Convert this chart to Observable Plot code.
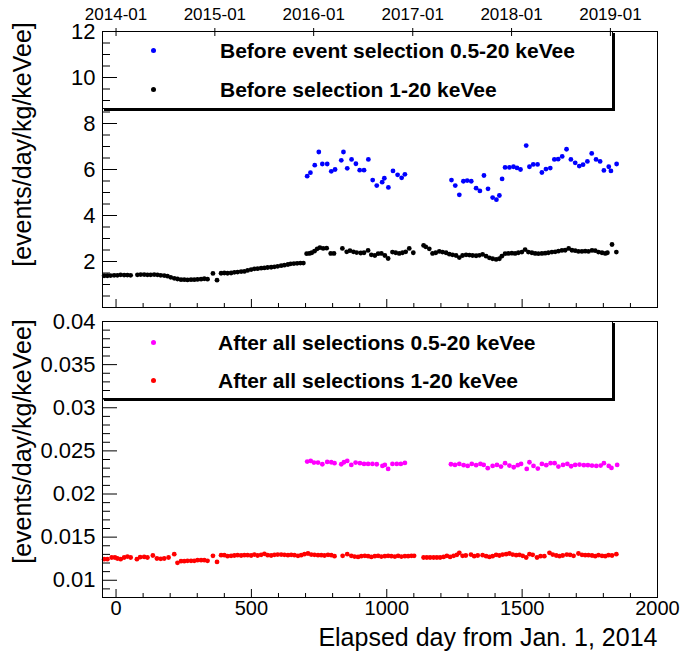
<!DOCTYPE html>
<html><head><meta charset="utf-8">
<script src="https://cdn.jsdelivr.net/npm/d3@7"></script>
<script src="https://cdn.jsdelivr.net/npm/@observablehq/plot@0.6"></script>
<style>
html,body{margin:0;padding:0;background:#fff;}
body{font-family:"Liberation Sans",Arial,Helvetica,sans-serif;}
#wrap{position:relative;width:680px;height:654px;overflow:hidden;}
.panel{position:absolute;left:0;}
.legend{position:absolute;border:1px solid #000;box-shadow:2px 2px 0 #000;box-sizing:border-box;}
.lg-dot{position:absolute;width:5px;height:5px;border-radius:50%;margin:-2.5px 0 0 -2.5px;}
.lg-txt{position:absolute;font-weight:bold;font-size:21px;line-height:1;transform:translateY(-50%);white-space:nowrap;color:#000;}
</style>
</head><body>
<div id="wrap"></div>
<script>
// ---------- data ----------
// "Before selection 1-20 keVee" (black)
const blackDays = [-44,-32,-20,-7,5,17,30,42,54,79,91,104,116,128,141,153,165,178,190,202,215,227,240,252,264,277,289,301,314,326,338,358,373,388,400,412,425,437,449,462,474,486,499,511,523,536,548,560,573,585,597,610,622,635,645,657,669,681,692,
  704,714,723,733,743,753,765,778,793,805,836,852,864,877,889,904,916,931,943,956,968,980,993,1005,1021,1033,1046,1058,1070,1083,1098,
  1136,1144,1157,1169,1181,1194,1206,1219,1231,1243,1256,1268,1280,1293,1305,1317,1330,1342,
  1354,1367,1379,1391,1404,1416,1425,1437,1449,1462,1474,1486,1499,1511,1523,1536,1548,1560,1573,1585,1597,1610,1622,1634,1647,1659,1672,1684,1696,1708,1721,1733,1745,1758,1770,1782,1795,1807,1815,1832,1848];
const blackVals = [1.38,1.38,1.39,1.40,1.40,1.42,1.41,1.41,1.40,1.42,1.43,1.43,1.42,1.42,1.43,1.42,1.40,1.39,1.36,1.31,1.27,1.24,1.21,1.21,1.20,1.21,1.21,1.22,1.23,1.25,1.23,1.48,1.19,1.49,1.50,1.49,1.50,1.53,1.54,1.56,1.57,1.61,1.65,1.68,1.69,1.71,1.72,1.74,1.75,1.77,1.79,1.82,1.84,1.87,1.90,1.91,1.92,1.93,1.93,
  2.34,2.35,2.38,2.45,2.55,2.60,2.57,2.58,2.35,2.35,2.57,2.42,2.47,2.42,2.39,2.37,2.38,2.48,2.29,2.26,2.34,2.35,2.26,2.13,2.41,2.38,2.35,2.38,2.42,2.57,2.38,
  2.70,2.64,2.55,2.35,2.38,2.44,2.41,2.38,2.32,2.29,2.26,2.17,2.26,2.29,2.28,2.26,2.25,2.27,
  2.31,2.23,2.16,2.12,2.09,2.12,2.23,2.34,2.35,2.36,2.35,2.38,2.41,2.52,2.41,2.38,2.35,2.34,2.35,2.36,2.38,2.41,2.42,2.45,2.48,2.49,2.57,2.49,2.47,2.44,2.44,2.45,2.44,2.48,2.47,2.41,2.38,2.35,2.38,2.74,2.41];

// "Before event selection 0.5-20 keVee" (blue)
const blueDays = [706,718,734,749,762,780,795,809,832,840,854,870,886,900,916,932,948,963,983,991,1006,1023,1040,1055,1067,
  1239,1253,1268,1283,1297,1312,1330,1344,1359,1374,1391,1405,1416,1426,1437,1453,1468,1481,1494,1515,1527,1541,1557,1573,1588,1604,1619,1633,1648,1664,1680,1696,1711,1725,1741,1757,1773,1788,1802,1820,1828,1849];
const blueVals = [5.71,5.86,6.19,6.76,6.24,6.24,5.92,6.00,6.40,6.76,6.05,6.44,6.25,5.97,5.97,6.44,5.54,5.30,5.45,5.62,5.22,5.94,5.77,5.64,5.79,
  5.54,5.30,4.90,5.49,5.52,5.49,5.19,5.07,5.74,5.16,4.78,4.69,4.87,5.59,6.09,6.09,6.12,6.07,6.00,7.04,6.12,6.22,6.22,5.87,6.02,6.06,6.44,6.45,6.57,6.88,6.44,6.29,6.15,6.21,6.35,6.70,6.44,6.35,5.96,6.12,5.94,6.24];

// "After all selections 1-20 keVee" (red)
const redDays = [-44,-32,-16,-4,5,17,30,42,54,77,89,104,116,136,151,165,178,194,215,227,240,252,264,277,289,301,314,326,338,358,373,388,400,412,425,437,449,462,474,486,499,511,523,536,548,560,573,585,597,610,622,635,647,659,672,684,696,709,721,733,746,758,770,783,795,807,
  837,854,869,881,894,906,919,931,943,956,968,980,993,1005,1017,1030,1042,1054,1067,1079,1091,1101,
  1136,1148,1160,1173,1185,1197,1210,1222,1234,1247,1259,1268,1280,1292,1311,1323,1336,
  1354,1367,1379,1391,1404,1416,1428,1441,1453,1465,1478,1490,1502,1515,1527,1539,1555,1568,1582,1601,1613,1626,1638,1650,1665,1677,1690,1708,1721,1733,1745,1758,1770,1782,1795,1807,1819,1832,1848];
const redVals = [0.01244,0.01244,0.01264,0.01264,0.01252,0.01244,0.01264,0.01275,0.01264,0.01244,
  0.01267,0.01271,0.01264,0.01287,0.01252,0.01248,0.01252,0.01264,0.01302,0.01202,
  0.01221,0.01221,0.01225,0.01225,0.01225,0.01233,0.01233,0.01233,0.01225,0.01283,
  0.01213,0.01291,0.01291,0.01279,0.01283,0.01287,0.01291,0.01287,0.01291,0.01291,
  0.01287,0.01298,0.01287,0.01295,0.01306,0.01291,0.01287,0.01295,0.01298,0.01298,
  0.01295,0.01291,0.01295,0.01291,0.01283,0.01291,0.01302,0.01310,0.01298,0.01295,
  0.01291,0.01291,0.01287,0.01295,0.01291,0.01279,
  0.01283,0.01302,0.01283,0.01275,0.01271,0.01279,0.01283,0.01279,0.01271,0.01279,0.01283,0.01275,0.01279,0.01283,0.01279,0.01275,0.01283,0.01275,0.01279,0.01279,0.01283,0.01283,
  0.01264,0.01264,0.01264,0.01264,0.01264,0.01264,0.01271,0.01283,0.01271,0.01283,0.01295,0.01318,0.01283,0.01287,0.01298,0.01279,0.01287,
  0.01291,0.01279,0.01271,0.01279,0.01295,0.01287,0.01298,0.01302,0.01310,0.01298,0.01291,0.01295,0.01283,0.01264,0.01302,0.01295,0.01264,0.01279,0.01279,0.01318,
  0.01298,0.01287,0.01279,0.01287,0.01298,0.01295,0.01283,0.01310,0.01295,0.01291,0.01291,0.01287,0.01279,0.01291,0.01283,0.01279,0.01291,0.01287,0.01302];

// "After all selections 0.5-20 keVee" (magenta)
const magDays = [706,719,731,746,762,780,795,807,832,842,854,869,885,901,916,931,947,963,984,993,1005,1021,1037,1052,1067,
  1237,1252,1268,1284,1299,1314,1330,1346,1358,1373,1391,1407,1422,1437,1453,1469,1484,1496,1517,1527,1542,1558,1573,1589,1605,1620,1634,1651,1667,1681,1696,1712,1728,1743,1758,1774,1790,1802,1820,1830,1851];
const magVals = [0.02376,0.02384,0.02364,0.02364,0.02345,0.02372,0.02368,0.02357,0.02345,0.02368,0.02384,0.02337,0.02364,0.02357,0.02349,0.02349,0.02349,0.02345,0.02326,0.02337,0.02291,0.02349,0.02349,0.02349,0.02360,
  0.02345,0.02337,0.02349,0.02334,0.02326,0.02349,0.02334,0.02349,0.02337,0.02299,
  0.02326,0.02337,0.02318,0.02357,0.02330,0.02310,0.02334,0.02349,0.02291,0.02368,
  0.02326,0.02295,0.02349,0.02334,0.02357,0.02357,0.02318,0.02337,0.02349,0.02322,
  0.02337,0.02341,0.02334,0.02334,0.02330,0.02326,0.02330,0.02357,0.02326,0.02302,0.02337];

// ticks & labels
const xMajor = [0,500,1000,1500,2000];
const xMinor = [100,200,300,400,600,700,800,900,1100,1200,1300,1400,1600,1700,1800,1900];
const xLabels = ["0","500","1000","1500","2000"];
const dateTicks = [0,365,730,1096,1461,1826];
const dateLabels = ["2014-01","2015-01","2016-01","2017-01","2018-01","2019-01"];
const topYMajor = [2,4,6,8,10,12];
const topYMinor = [0.5,1,1.5,2.5,3,3.5,4.5,5,5.5,6.5,7,7.5,8.5,9,9.5,10.5,11,11.5];
const topYLabels = ["2","4","6","8","10","12"];
const botYMajor = [0.01,0.015,0.02,0.025,0.03,0.035,0.04];
const botYMinor = [0.008,0.009,0.011,0.012,0.013,0.014,0.016,0.017,0.018,0.019,0.021,0.022,0.023,0.024,0.026,0.027,0.028,0.029,0.031,0.032,0.033,0.034,0.036,0.037,0.038,0.039];
const botYLabels = ["0.01","0.015","0.02","0.025","0.03","0.035","0.04"];
const yTitle = "[events/day/kg/keVee]";
const xTitle = "Elapsed day from Jan. 1, 2014";
const legendTop = ["Before event selection 0.5-20 keVee","Before selection 1-20 keVee"];
const legendBot = ["After all selections 0.5-20 keVee","After all selections 1-20 keVee"];

// ---------- build ----------
const rows = (days, vals) => days.map((d, i) => ({day: d, v: vals[i]}));
const black = rows(blackDays, blackVals), blue = rows(blueDays, blueVals);
const red = rows(redDays, redVals), mag = rows(magDays, magVals);

const FONT = "'Liberation Sans', Arial, Helvetica, sans-serif";
const W = 680, ML = 102, MR = 23;
const PW = W - ML - MR;   // plot width
const PH = 276;           // plot height (both panels)
const style = {fontFamily: FONT, color: "black", background: "transparent", overflow: "visible"};
const R = 2.4;
const TICKFS = 22;

const topPlot = Plot.plot({
  width: W, height: 314, marginLeft: ML, marginRight: MR, marginTop: 31, marginBottom: 7,
  x: {domain: [-50, 2000]}, y: {domain: [0, 12]}, style,
  marks: [
    Plot.dot(black, {x: "day", y: "v", r: R, fill: "#000000", stroke: null}),
    Plot.dot(blue, {x: "day", y: "v", r: R, fill: "#0000ff", stroke: null}),
    Plot.tickY(topYMajor, {y: d => d, insetRight: PW - 15, stroke: "black"}),
    Plot.tickY(topYMinor, {y: d => d, insetRight: PW - 8, stroke: "black"}),
    Plot.tickX(xMajor, {x: d => d, insetTop: PH - 8, stroke: "black"}),
    Plot.tickX(xMinor, {x: d => d, insetTop: PH - 4, stroke: "black"}),
    Plot.tickX(dateTicks, {x: d => d, insetTop: -3, insetBottom: PH - 5, stroke: "black"}),
    Plot.axisY({ticks: topYMajor, tickFormat: d => topYLabels[topYMajor.indexOf(d)], tickSize: 0, tickPadding: 7, fontSize: TICKFS, label: null}),
    Plot.axisX({anchor: "top", ticks: dateTicks, tickFormat: d => dateLabels[dateTicks.indexOf(d)], tickSize: 0, tickPadding: 12, fontSize: 17, label: null}),
    Plot.frame({stroke: "black"}),
    Plot.text([yTitle], {text: d => d, frameAnchor: "left", textAnchor: "middle", lineAnchor: "middle", rotate: -90, dx: -80, dy: -25, fontSize: 25, fill: "black"})
  ]
});

const botPlot = Plot.plot({
  width: W, height: 340, marginLeft: ML, marginRight: MR, marginTop: 7, marginBottom: 57,
  x: {domain: [-50, 2000]}, y: {domain: [0.008, 0.04]}, style,
  marks: [
    Plot.dot(red, {x: "day", y: "v", r: R, fill: "#ff0000", stroke: null}),
    Plot.dot(mag, {x: "day", y: "v", r: R, fill: "#ff00ff", stroke: null}),
    Plot.tickY(botYMajor, {y: d => d, insetRight: PW - 15, stroke: "black"}),
    Plot.tickY(botYMinor, {y: d => d, insetRight: PW - 8, stroke: "black"}),
    Plot.tickX(xMajor, {x: d => d, insetTop: PH - 8, stroke: "black"}),
    Plot.tickX(xMinor, {x: d => d, insetTop: PH - 4, stroke: "black"}),
    Plot.axisY({ticks: botYMajor, tickFormat: d => botYLabels[botYMajor.indexOf(d)], tickSize: 0, tickPadding: 7, fontSize: TICKFS, label: null}),
    Plot.axisX({anchor: "bottom", ticks: xMajor, tickFormat: d => xLabels[xMajor.indexOf(d)], tickSize: 0, tickPadding: 3, fontSize: 20, label: null}),
    Plot.frame({stroke: "black"}),
    Plot.text([yTitle], {text: d => d, frameAnchor: "left", textAnchor: "middle", lineAnchor: "middle", rotate: -90, dx: -80, dy: -18, fontSize: 25, fill: "black"}),
    Plot.text([xTitle], {text: d => d, frameAnchor: "bottom-right", textAnchor: "end", lineAnchor: "bottom", dy: 48, fontSize: 25, fill: "black"})
  ]
});

const wrap = document.getElementById("wrap");
topPlot.classList.add("panel"); topPlot.style.top = "0px";
botPlot.classList.add("panel"); botPlot.style.top = "314px";
wrap.appendChild(topPlot);
wrap.appendChild(botPlot);

function legend(top, items, colors, rowsY, textX) {
  const box = document.createElement("div");
  box.className = "legend";
  Object.assign(box.style, {left: "102px", top: top + "px", width: "511px", height: "78px"});
  wrap.appendChild(box);
  items.forEach((t, i) => {
    const dot = document.createElement("div");
    dot.className = "lg-dot";
    Object.assign(dot.style, {left: "153px", top: rowsY[i] + "px", background: colors[i]});
    wrap.appendChild(dot);
    const tx = document.createElement("div");
    tx.className = "lg-txt";
    tx.textContent = t;
    Object.assign(tx.style, {left: textX + "px", top: rowsY[i] + "px"});
    wrap.appendChild(tx);
  });
}
legend(31, legendTop, ["#0000ff", "#000000"], [50, 89], 220);
legend(321, legendBot, ["#ff00ff", "#ff0000"], [342, 380], 218);
</script>
</body></html>
